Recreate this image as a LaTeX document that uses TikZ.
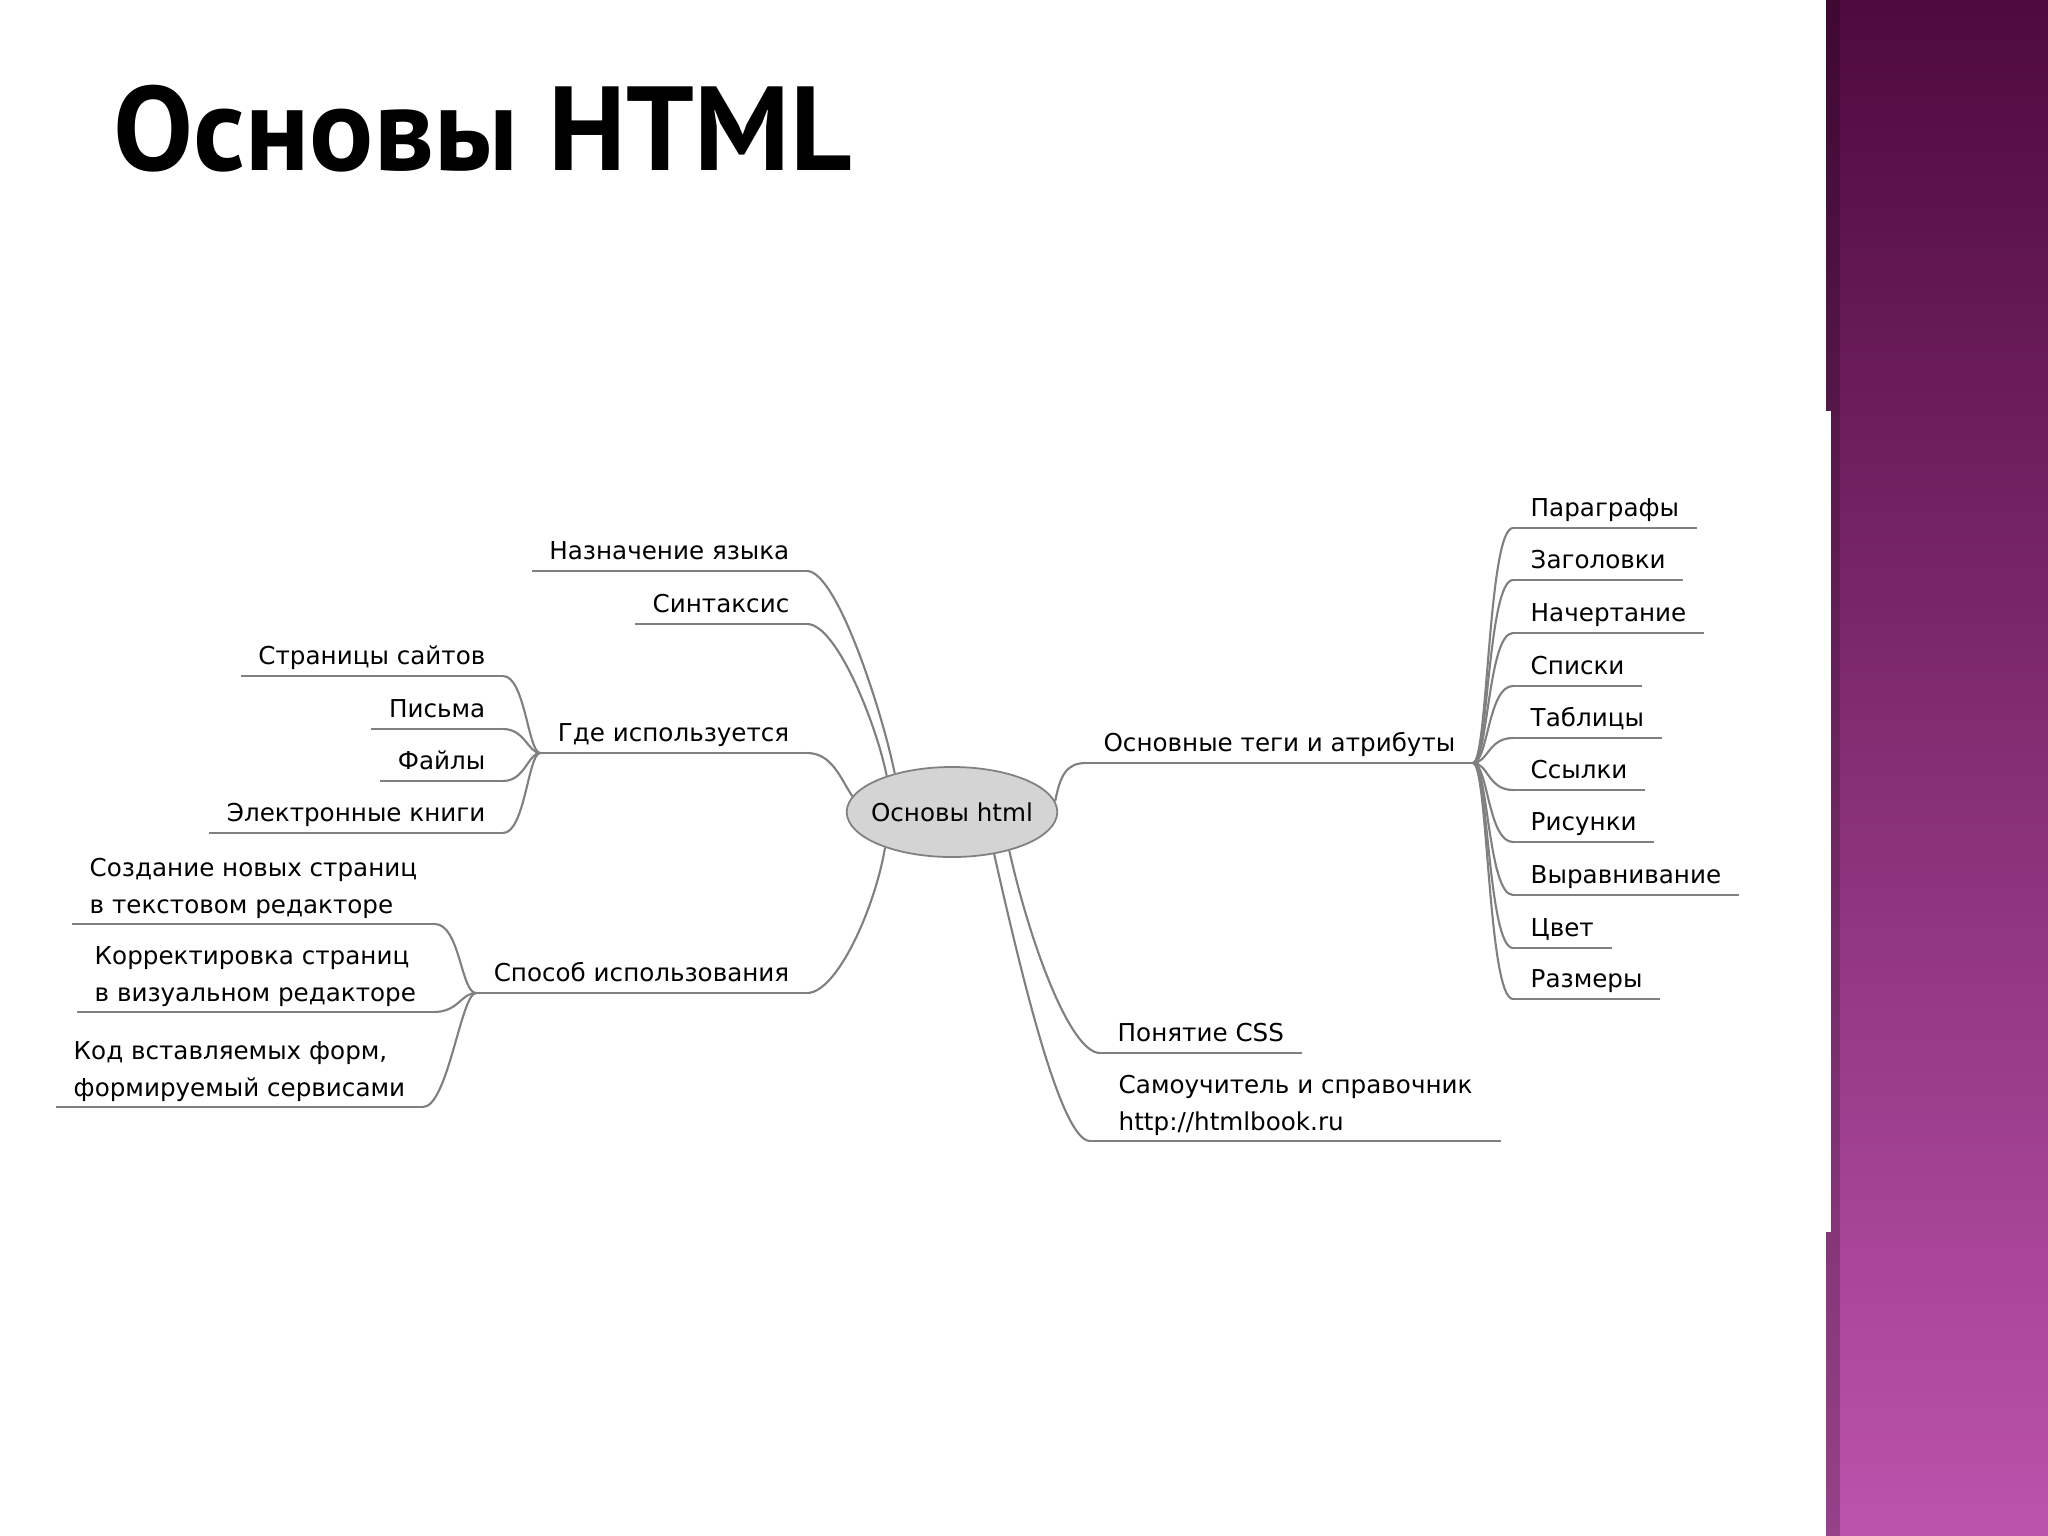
\documentclass[tikz,border=0pt]{standalone}
\usepackage{fontspec}
\usepackage{xcolor}
\usepackage{tikz}
\usetikzlibrary{shapes.geometric}
\newfontfamily\mapfont{DejaVu Sans}
\newfontfamily\headfont{PT Sans}
\definecolor{mapgray}{RGB}{128,128,128}
\definecolor{rootfill}{RGB}{212,212,212}
\definecolor{plumtop}{RGB}{78,10,62}
\definecolor{plummid}{RGB}{140,58,122}
\definecolor{plumbot}{RGB}{188,82,172}

\begin{document}
\begin{tikzpicture}[
        x=0.01cm, y=-0.01cm,
        mapnode/.style={inner xsep=0.17cm, font=\mapfont\fontsize{7}{10.3}\selectfont},
        topic/.style={mapnode, inner ysep=0pt, text depth=0.11cm},
        note/.style={mapnode, inner ysep=0.05cm, align=left},
        root/.style={ellipse, draw=mapgray, fill=rootfill, line width=0.5pt,
                     minimum width=2.07cm, minimum height=0.9cm,
                     inner xsep=-0.065cm, inner ysep=0pt,
                     font=\mapfont\fontsize{7}{9}\selectfont},
        link/.style={draw=mapgray, line width=0.6pt}
      ]
      \useasboundingbox (0,0) rectangle (2048,1536);
      \fill[white] (0,0) rectangle (2048,1536);

      % side band
      \shade[top color=plumtop, middle color=plummid, bottom color=plumbot] (1826,0) rectangle (2048,1536);
      \fill[black, opacity=0.2] (1826,0) rectangle (1840,1536);
      \fill[white] (1826,411) rectangle (1831,1232);

      \node[anchor=base west, inner sep=0pt, font=\headfont\bfseries\fontsize{34}{40}\selectfont] (title) at (113,170) {Основы HTML};

      \node[root] (root) at (952,812) {Основы html};

      % left side
      \node[topic, anchor=south east] (naz) at (807,571) {Назначение языка};
      \node[topic, anchor=south east] (sin) at (807,624) {Синтаксис};
      \node[topic, anchor=south east] (gde) at (807,753) {Где используется};
      \node[topic, anchor=south east] (spo) at (807,993) {Способ использования};

      \node[topic, anchor=south east] (str) at (503,676) {Страницы сайтов};
      \node[topic, anchor=south east] (pis) at (503,729) {Письма};
      \node[topic, anchor=south east] (fai) at (503,781) {Файлы};
      \node[topic, anchor=south east] (ekn) at (503,833) {Электронные книги};

      \node[note, anchor=south west] (soz) at (72,924) {Создание новых страниц\\в текстовом редакторе};
      \node[note, anchor=south west] (kor) at (77,1012) {Корректировка страниц\\в визуальном редакторе};
      \node[note, anchor=south west] (kod) at (56,1107) {Код вставляемых форм,\\формируемый сервисами};

      % right side
      \node[topic, anchor=south east] (teg) at (1473,763) {Основные теги и атрибуты};
      \node[topic, anchor=south west] (par) at (1513,528) {Параграфы};
      \node[topic, anchor=south west] (zag) at (1513,580) {Заголовки};
      \node[topic, anchor=south west] (nach) at (1513,633) {Начертание};
      \node[topic, anchor=south west] (spis) at (1513,686) {Списки};
      \node[topic, anchor=south west] (tabl) at (1513,738) {Таблицы};
      \node[topic, anchor=south west] (ssyl) at (1513,790) {Ссылки};
      \node[topic, anchor=south west] (ris) at (1513,842) {Рисунки};
      \node[topic, anchor=south west] (vyr) at (1513,895) {Выравнивание};
      \node[topic, anchor=south west] (cvet) at (1513,948) {Цвет};
      \node[topic, anchor=south west] (razm) at (1513,999) {Размеры};

      \node[topic, anchor=south west] (css) at (1100,1053) {Понятие CSS};
      \node[note, anchor=south west, inner xsep=0.28cm] (sam) at (1090,1141) {Самоучитель и справочник\\http://htmlbook.ru};

      % underlines
      \foreach \n in {naz,sin,gde,spo,str,pis,fai,ekn,soz,kor,kod,teg,par,zag,nach,spis,tabl,ssyl,ris,vyr,cvet,razm,css,sam}
        \draw[link] (\n.south west) -- (\n.south east);

      % branches from the centre
      \draw[link] (naz.south east) .. controls +(30,0) and +(-12,-60) .. (root.146);
      \draw[link] (sin.south east) .. controls +(30,0) and +(-10,-50) .. (root.151);
      \draw[link] (gde.south east) .. controls +(25,0) and +(-12,-18) .. (root.171);
      \draw[link] (spo.south east) .. controls +(30,0) and +(-10,60) .. (root.208);
      \draw[link] (root.6) .. controls +(5,-25) and +(-20,0) .. (teg.south west);
      \draw[link] (root.326) .. controls +(20,90) and +(-30,0) .. (css.south west);
      \draw[link] (root.315) .. controls +(25,110) and +(-30,0) .. (sam.south west);

      % sub-branches
      \draw[link] (gde.south west) .. controls +(-12,0) and +(22,0) .. (str.south east);
      \draw[link] (gde.south west) .. controls +(-12,0) and +(22,0) .. (pis.south east);
      \draw[link] (gde.south west) .. controls +(-12,0) and +(22,0) .. (fai.south east);
      \draw[link] (gde.south west) .. controls +(-12,0) and +(22,0) .. (ekn.south east);

      \draw[link] (spo.south west) .. controls +(-15,0) and +(25,0) .. (soz.south east);
      \draw[link] (spo.south west) .. controls +(-15,0) and +(25,0) .. (kor.south east);
      \draw[link] (spo.south west) .. controls +(-15,0) and +(25,0) .. (kod.south east);

      \draw[link] (teg.south east) .. controls +(15,0) and +(-25,0) .. (par.south west);
      \draw[link] (teg.south east) .. controls +(15,0) and +(-25,0) .. (zag.south west);
      \draw[link] (teg.south east) .. controls +(15,0) and +(-25,0) .. (nach.south west);
      \draw[link] (teg.south east) .. controls +(15,0) and +(-25,0) .. (spis.south west);
      \draw[link] (teg.south east) .. controls +(15,0) and +(-25,0) .. (tabl.south west);
      \draw[link] (teg.south east) .. controls +(15,0) and +(-25,0) .. (ssyl.south west);
      \draw[link] (teg.south east) .. controls +(15,0) and +(-25,0) .. (ris.south west);
      \draw[link] (teg.south east) .. controls +(15,0) and +(-25,0) .. (vyr.south west);
      \draw[link] (teg.south east) .. controls +(15,0) and +(-25,0) .. (cvet.south west);
      \draw[link] (teg.south east) .. controls +(15,0) and +(-25,0) .. (razm.south west);
    \end{tikzpicture}
\end{document}
